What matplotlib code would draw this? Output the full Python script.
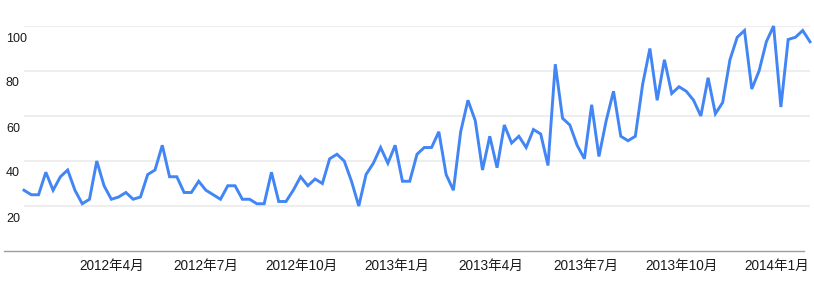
import matplotlib
matplotlib.use("Agg")
import matplotlib.pyplot as plt
import matplotlib.transforms as mtransforms
from matplotlib.lines import Line2D
import pandas as pd

plt.rcParams['font.family'] = ['Liberation Sans', 'Noto Sans CJK JP', 'DejaVu Sans']

# Weekly data, starting 2012-01-08
start_date = "2012-01-08"
values = [27, 25, 25, 35, 27, 33, 36, 27, 21, 23, 40, 29, 23, 24, 26, 23, 24, 34, 36, 47,
          33, 33, 26, 26, 31, 27, 25, 23, 29, 29, 23, 23, 21, 21, 35, 22,
          22, 27, 33, 29, 32, 30, 41, 43, 40, 31, 20, 34, 39, 46, 39, 47, 31, 31, 43, 46,
          46, 53, 34, 27, 53, 67, 58, 36, 51, 37, 56, 48, 51, 46, 54, 52, 38,
          83, 59, 56, 47, 41, 65, 42, 58, 71, 51, 49, 51, 74, 90, 67, 85, 70, 73, 71, 67,
          60, 77, 61, 66, 85, 95, 98, 72, 80, 93, 100, 64, 94, 95, 98, 93]
dates = pd.date_range(start_date, periods=len(values), freq="W-SUN")

xtick_dates = ["2012-04-01", "2012-07-01", "2012-10-01", "2013-01-01",
               "2013-04-01", "2013-07-01", "2013-10-01", "2014-01-01"]
xtick_labels = ["2012年4月", "2012年7月", "2012年10月", "2013年1月",
                "2013年4月", "2013年7月", "2013年10月", "2014年1月"]
yticks = [20, 40, 60, 80, 100]

W, H = 814, 290
fig = plt.figure(figsize=(W / 100, H / 100), dpi=100)
left, right, top, bottom = 24, 810, 26, 251
ax = fig.add_axes([left / W, 1 - bottom / H, (right - left) / W, (bottom - top) / H])

ax.plot(dates, values, color="#4285f4", lw=2.1, clip_on=False, solid_joinstyle="miter", zorder=3)
ax.set_xlim(dates[0], dates[-1])
ax.set_ylim(0, 100)

for s in ax.spines.values():
    s.set_visible(False)

ax.set_yticks(yticks)
ax.set_yticklabels([str(v) for v in yticks])
ax.yaxis.grid(True, color="#eeeeee", lw=1.5)
ax.set_axisbelow(True)
ax.tick_params(axis="y", length=0, pad=13, labelsize=9, labelcolor="#1a1a1a")
for lab in ax.get_yticklabels():
    lab.set_horizontalalignment("left")
    lab.set_transform(lab.get_transform() + mtransforms.ScaledTranslation(0, -11 / 100, fig.dpi_scale_trans))

ax.set_xticks(pd.to_datetime(xtick_dates))
ax.set_xticklabels(xtick_labels)
ax.tick_params(axis="x", length=0, pad=6, labelsize=9.8, labelcolor="#1a1a1a")

fig.add_artist(Line2D([4 / W, 804 / W], [1 - 250.5 / H, 1 - 250.5 / H], color="#9e9e9e", lw=1.0))

fig.savefig("out.png", dpi=100)
